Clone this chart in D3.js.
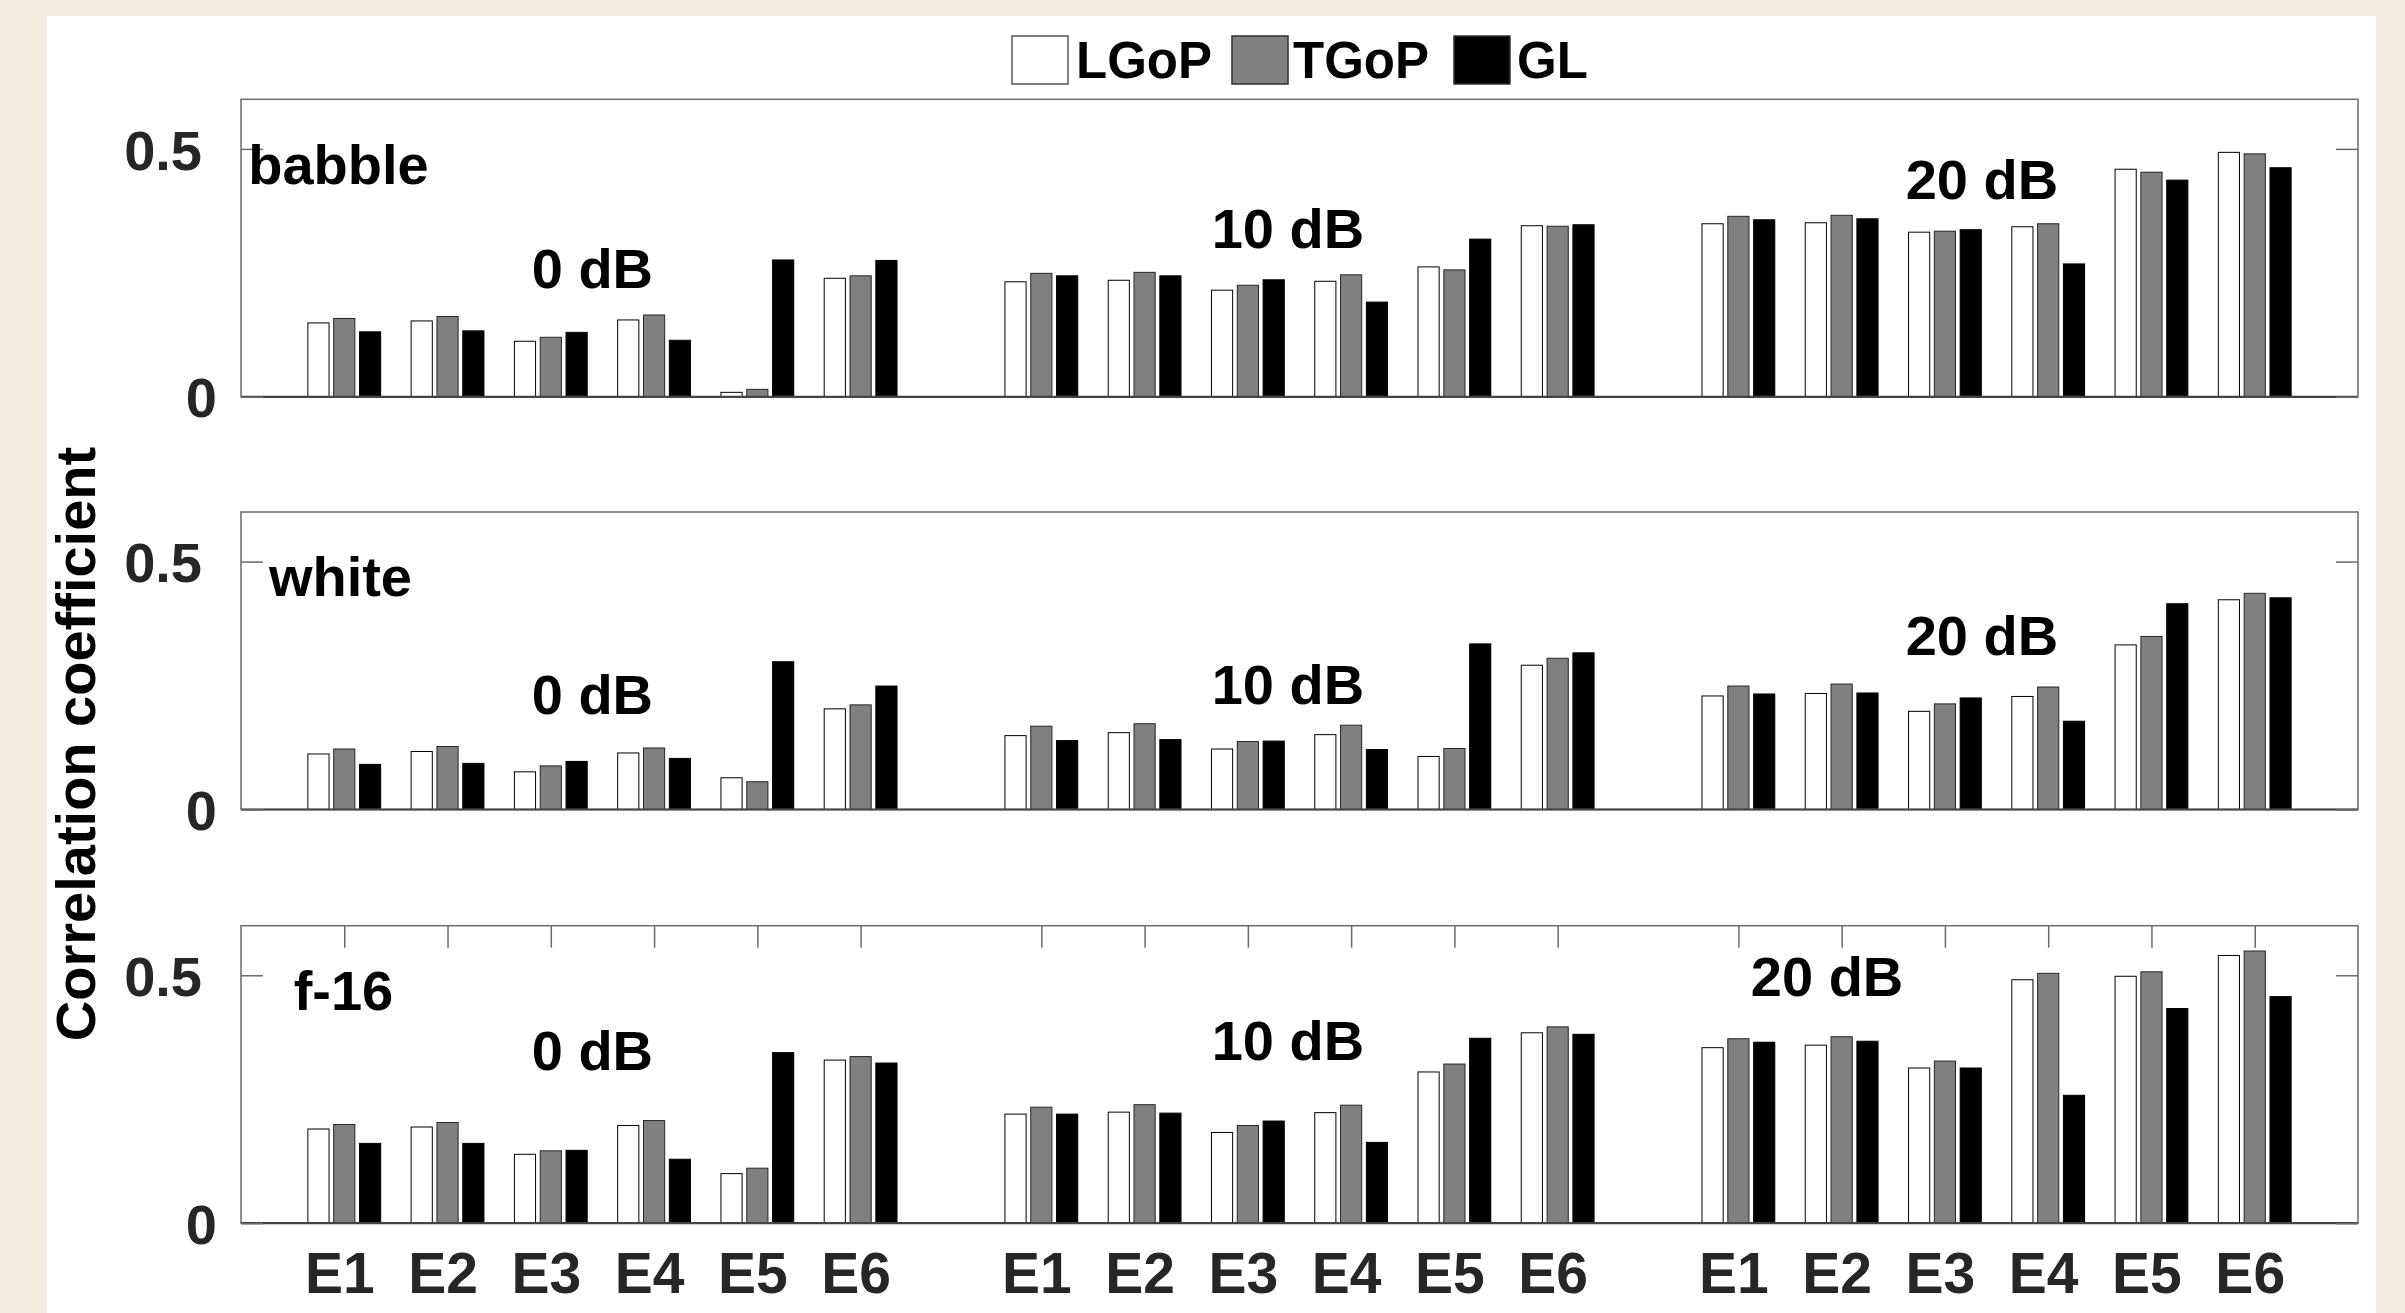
<!DOCTYPE html>
<html>
<head>
<meta charset="utf-8">
<script src="https://cdn.jsdelivr.net/npm/d3@7"></script>
<style>
  html, body { margin: 0; padding: 0; background: #F5ECE1; }
  svg { display: block; }
  text { font-family: "Liberation Sans", Arial, Helvetica, sans-serif; font-weight: bold; }
</style>
</head>
<body>
<svg id="chart" width="2405" height="1313"></svg>
<script>
// ---------------- DATA ----------------
const categories = ["E1", "E2", "E3", "E4", "E5", "E6"];
const snrLevels = ["0 dB", "10 dB", "20 dB"];
const noiseTypes = ["babble", "white", "f-16"];
const seriesNames = ["LGoP", "TGoP", "GL"];
const yTickValues = [0, 0.5];
const yTickLabels = ["0", "0.5"];
const yLabel = "Correlation coefficient";

// values ordered: 0 dB E1..E6, 10 dB E1..E6, 20 dB E1..E6
const babbleLGoP = [0.149, 0.153, 0.112, 0.155, 0.009, 0.239, 0.232, 0.235, 0.215, 0.233, 0.262, 0.345, 0.349, 0.351, 0.332, 0.343, 0.459, 0.493];
const babbleTGoP = [0.158, 0.162, 0.120, 0.165, 0.015, 0.244, 0.249, 0.251, 0.225, 0.246, 0.256, 0.344, 0.364, 0.366, 0.334, 0.349, 0.453, 0.490];
const babbleGL   = [0.131, 0.133, 0.130, 0.114, 0.276, 0.275, 0.244, 0.244, 0.236, 0.191, 0.318, 0.347, 0.357, 0.359, 0.337, 0.268, 0.437, 0.462];

const whiteLGoP = [0.112, 0.117, 0.076, 0.114, 0.064, 0.203, 0.149, 0.155, 0.122, 0.151, 0.107, 0.291, 0.229, 0.234, 0.198, 0.228, 0.332, 0.423];
const whiteTGoP = [0.122, 0.127, 0.088, 0.124, 0.056, 0.211, 0.168, 0.173, 0.137, 0.170, 0.123, 0.305, 0.249, 0.253, 0.213, 0.247, 0.349, 0.436];
const whiteGL   = [0.091, 0.093, 0.097, 0.103, 0.298, 0.249, 0.139, 0.141, 0.138, 0.121, 0.334, 0.316, 0.233, 0.235, 0.225, 0.178, 0.415, 0.427];

const f16LGoP = [0.190, 0.194, 0.139, 0.197, 0.100, 0.329, 0.220, 0.224, 0.183, 0.223, 0.305, 0.384, 0.354, 0.359, 0.313, 0.491, 0.498, 0.540];
const f16TGoP = [0.199, 0.203, 0.146, 0.207, 0.111, 0.336, 0.234, 0.239, 0.197, 0.238, 0.321, 0.396, 0.372, 0.376, 0.327, 0.504, 0.507, 0.549];
const f16GL   = [0.161, 0.161, 0.147, 0.129, 0.344, 0.323, 0.220, 0.222, 0.206, 0.163, 0.373, 0.381, 0.365, 0.367, 0.313, 0.258, 0.433, 0.457];

// ---------------- LAYOUT / STYLE ----------------
const panelSeries = [
  [babbleLGoP, babbleTGoP, babbleGL],
  [whiteLGoP, whiteTGoP, whiteGL],
  [f16LGoP, f16TGoP, f16GL]
];
const seriesFill = ["#FFFFFF", "#808080", "#000000"];
const seriesStroke = ["#000000", "#262626", "#000000"];

const plotLeft = 241, plotRight = 2358;
const panelTops = [99.3, 512, 925.7];
const panelH = 297.5;
const groupStep = 6.75;          // x-units between SNR groups
const barOffset = 0.25;          // x-units between bars in a group
const barWidthU = 0.205;         // bar width in x-units

// annotation anchors (x-units, y-value of text baseline)
const nameAnchors = [[0.07, 0.430], [0.27, 0.430], [0.51, 0.430]];
const snrAnchors = [
  [[2.815, 0.219], [9.40, 0.300], [16.12, 0.399]],
  [[2.815, 0.192], [9.40, 0.212], [16.12, 0.311]],
  [[2.815, 0.308], [9.40, 0.329], [14.62, 0.459]]
];

const svg = d3.select("#chart");

// white figure area
svg.append("rect").attr("x", 47).attr("y", 16).attr("width", 2376 - 47).attr("height", 1313 - 16).attr("fill", "#FFFFFF");

const x = d3.scaleLinear().domain([0, 20.5]).range([plotLeft, plotRight]);
const xPositions = [];
snrLevels.forEach((s, g) => categories.forEach((c, k) => xPositions.push({ pos: 1 + g * groupStep + k, label: c })));

panelSeries.forEach((series, p) => {
  const top = panelTops[p];
  const y = d3.scaleLinear().domain([0, 0.6]).range([top + panelH, top]);
  const g = svg.append("g");

  g.append("rect").attr("x", plotLeft).attr("y", top).attr("width", plotRight - plotLeft).attr("height", panelH).attr("fill", "#FFFFFF");

  // bars
  series.forEach((vals, s) => {
    g.append("g").selectAll("rect").data(vals).join("rect")
      .attr("x", (d, i) => x(xPositions[i].pos + (s - 1) * barOffset - barWidthU / 2))
      .attr("width", x(barWidthU) - x(0))
      .attr("y", d => y(d))
      .attr("height", d => y(0) - y(d))
      .attr("fill", seriesFill[s])
      .attr("stroke", seriesStroke[s])
      .attr("stroke-width", 1);
  });

  // frame
  g.append("rect").attr("x", plotLeft).attr("y", top).attr("width", plotRight - plotLeft).attr("height", panelH)
    .attr("fill", "none").attr("stroke", "#6b6b6b").attr("stroke-width", 1.5);
  g.append("line").attr("x1", plotLeft).attr("x2", plotRight).attr("y1", y(0)).attr("y2", y(0))
    .attr("stroke", "#444444").attr("stroke-width", 2.2);

  // left y axis (inward ticks)
  const yAxisL = d3.axisLeft(y).tickValues(yTickValues).tickSizeInner(-22).tickSizeOuter(0)
    .tickFormat((d, i) => yTickLabels[i]).tickPadding(24);
  const gl = g.append("g").attr("transform", `translate(${plotLeft},0)`).call(yAxisL);
  gl.select(".domain").remove();
  gl.selectAll(".tick line").attr("stroke", "#6b6b6b").attr("stroke-width", 1.5);
  gl.selectAll(".tick text")
    .attr("font-size", 56).attr("fill", "#262626").attr("font-family", "Liberation Sans, Arial, sans-serif").attr("font-weight", "bold")
    .attr("dx", d => d === 0.5 ? -15 : 0).attr("dy", "0.36em");

  // right y axis ticks
  const yAxisR = d3.axisRight(y).tickValues(yTickValues).tickSizeInner(-22).tickSizeOuter(0).tickFormat("");
  const gr = g.append("g").attr("transform", `translate(${plotRight},0)`).call(yAxisR);
  gr.select(".domain").remove();
  gr.selectAll(".tick line").attr("stroke", "#6b6b6b").attr("stroke-width", 1.5);

  // noise type name
  g.append("text").attr("x", x(nameAnchors[p][0])).attr("y", y(nameAnchors[p][1]))
    .attr("font-size", 56).attr("fill", "#000").text(noiseTypes[p]);

  // SNR labels
  snrLevels.forEach((lab, k) => {
    g.append("text").attr("x", x(snrAnchors[p][k][0])).attr("y", y(snrAnchors[p][k][1]))
      .attr("font-size", 56).attr("fill", "#000").text(lab);
  });

  if (p === 2) {
    const xTop = d3.axisTop(x).tickValues(xPositions.map(d => d.pos)).tickSizeInner(-22).tickSizeOuter(0).tickFormat("");
    const gt = g.append("g").attr("transform", `translate(0,${top})`).call(xTop);
    gt.select(".domain").remove();
    gt.selectAll(".tick line").attr("stroke", "#6b6b6b").attr("stroke-width", 1.5);
    const xBot = d3.axisBottom(x).tickValues(xPositions.map(d => d.pos)).tickSize(0).tickPadding(29)
      .tickFormat((d, i) => xPositions[i].label);
    const gb = g.append("g").attr("transform", `translate(0,${top + panelH})`).call(xBot);
    gb.select(".domain").remove();
    gb.selectAll(".tick text").attr("font-size", 57).attr("fill", "#262626").attr("dx", -5)
      .attr("font-family", "Liberation Sans, Arial, sans-serif").attr("font-weight", "bold");
  }
});

// y label
svg.append("text").attr("transform", "translate(95,744) rotate(-90)")
  .attr("text-anchor", "middle").attr("font-size", 56).attr("fill", "#000").text(yLabel);

// legend
const legendBoxX = [1012, 1232, 1454];
const legendTextX = [1076, 1293, 1517];
const legend = svg.append("g");
seriesNames.forEach((name, i) => {
  legend.append("rect").attr("x", legendBoxX[i]).attr("y", 36).attr("width", 56).attr("height", 48)
    .attr("fill", seriesFill[i]).attr("stroke", i === 0 ? "#555555" : "#333333").attr("stroke-width", 1.5);
  legend.append("text").attr("x", legendTextX[i]).attr("y", 78).attr("font-size", 51).attr("fill", "#000").text(name);
});
</script>
</body>
</html>
